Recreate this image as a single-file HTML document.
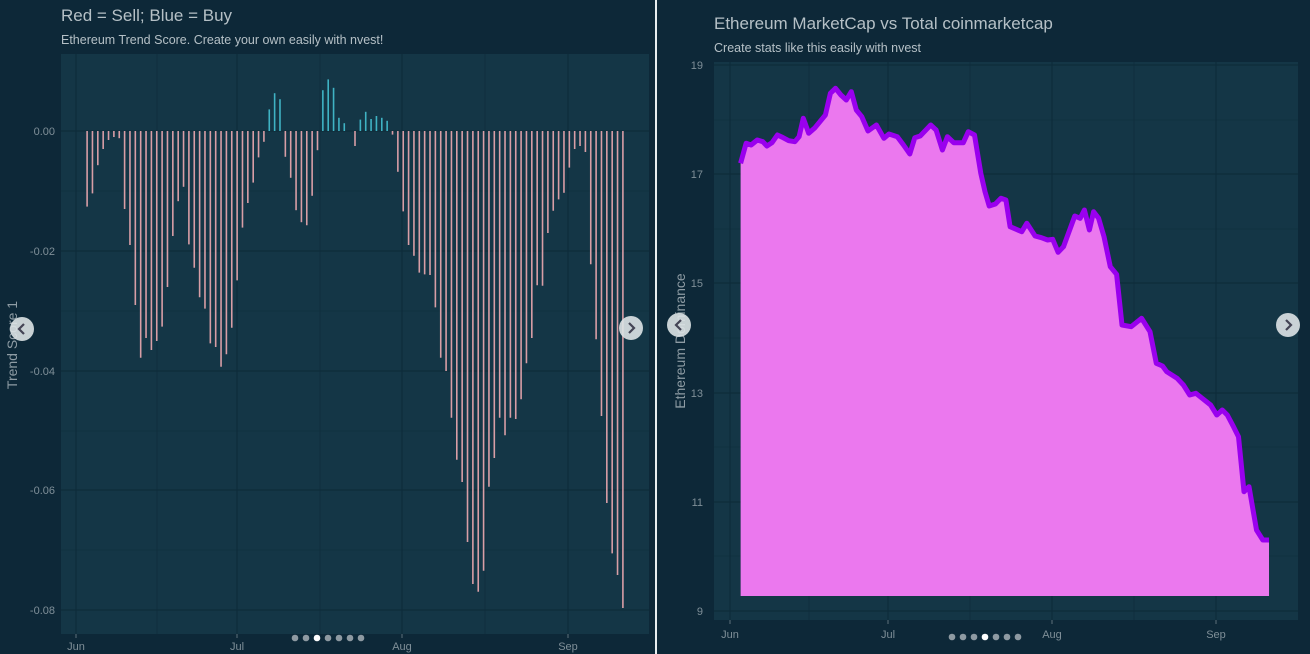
<!DOCTYPE html>
<html><head><meta charset="utf-8"><style>
body{margin:0;background:#0d2838;width:1310px;height:654px;overflow:hidden;font-family:"Liberation Sans",sans-serif}
svg{position:absolute;left:0;top:0}
</style></head><body>
<svg id="s" width="1310" height="654" xmlns="http://www.w3.org/2000/svg">
<rect x="0" y="0" width="1310" height="654" fill="#0d2838"/>
<rect x="655" y="0" width="2" height="654" fill="#e8eef0"/>
<!-- left panel -->
<rect x="61" y="54" width="588" height="580" fill="#143646"/>
<rect x="714" y="62" width="584" height="558" fill="#143646"/>
<g id="grid" stroke="#0e2c3b" fill="none"></g>
<g id="bars"></g>
<g id="area"></g>
<g font-size="17" fill="#b5c0c6">
<text x="61" y="21">Red = Sell; Blue = Buy</text>
<text x="714" y="29">Ethereum MarketCap vs Total coinmarketcap</text>
</g>
<g font-size="12.5" fill="#b5c0c6">
<text x="61" y="44">Ethereum Trend Score. Create your own easily with nvest!</text>
<text x="714" y="52">Create stats like this easily with nvest</text>
</g>
<g font-size="11" fill="#7f8f98" text-anchor="end">
<text x="55" y="135">0.00</text><text x="55" y="255">-0.02</text><text x="55" y="375">-0.04</text><text x="55" y="494">-0.06</text><text x="55" y="614">-0.08</text>
<text x="703" y="69">19</text><text x="703" y="178">17</text><text x="703" y="287">15</text><text x="703" y="397">13</text><text x="703" y="506">11</text><text x="703" y="615">9</text>
</g>
<g font-size="11" fill="#7f8f98" text-anchor="middle">
<text x="76" y="650">Jun</text><text x="237" y="650">Jul</text><text x="402" y="650">Aug</text><text x="568" y="650">Sep</text>
<text x="730" y="638">Jun</text><text x="888" y="638">Jul</text><text x="1052" y="638">Aug</text><text x="1216" y="638">Sep</text>
</g>
<text transform="translate(17,345) rotate(-90)" font-size="14" fill="#8e9ca4" text-anchor="middle">Trend Score 1</text>
<text transform="translate(685,341) rotate(-90)" font-size="14" fill="#8e9ca4" text-anchor="middle">Ethereum Dominance</text>
<g id="ui"></g>
</svg>
<script>
var NS="http://www.w3.org/2000/svg";
function el(p,t,a){var e=document.createElementNS(NS,t);for(var k in a)e.setAttribute(k,a[k]);document.getElementById(p).appendChild(e);return e;}
// grid left
[131,251,371,490,610].forEach(function(y){el("grid","line",{x1:61,x2:649,y1:y,y2:y,"stroke-width":1.2});});
[191,311,431,550].forEach(function(y){el("grid","line",{x1:61,x2:649,y1:y,y2:y,"stroke-width":0.6});});
[76,237,402,568].forEach(function(x){el("grid","line",{x1:x,x2:x,y1:54,y2:634,"stroke-width":1.2});});
[157,320,485].forEach(function(x){el("grid","line",{x1:x,x2:x,y1:54,y2:634,"stroke-width":0.6});});
// grid right
[65,174,283,393,502,611].forEach(function(y){el("grid","line",{x1:714,x2:1298,y1:y,y2:y,"stroke-width":1.2});});
[120,229,338,447,556].forEach(function(y){el("grid","line",{x1:714,x2:1298,y1:y,y2:y,"stroke-width":0.6});});
[730,888,1052,1216].forEach(function(x){el("grid","line",{x1:x,x2:x,y1:62,y2:620,"stroke-width":1.2});});
[809,970,1134].forEach(function(x){el("grid","line",{x1:x,x2:x,y1:62,y2:620,"stroke-width":0.6});});
// ticks
[76,237,402,568].forEach(function(x){el("grid","line",{x1:x,x2:x,y1:634,y2:638,stroke:"#5d707a"});});
[730,888,1052,1216].forEach(function(x){el("grid","line",{x1:x,x2:x,y1:620,y2:624,stroke:"#5d707a"});});
var v=[-0.0126,-0.0104,-0.0057,-0.003,-0.0015,-0.001,-0.0012,-0.013,-0.019,-0.029,-0.0378,-0.0345,-0.0365,-0.035,-0.0326,-0.026,-0.0175,-0.0117,-0.0093,-0.0189,-0.0228,-0.0277,-0.0296,-0.0354,-0.036,-0.0393,-0.0372,-0.0328,-0.0249,-0.0161,-0.012,-0.0086,-0.0044,-0.0018,0.0036,0.0063,0.0053,-0.0043,-0.0078,-0.0132,-0.0152,-0.0157,-0.0108,-0.0032,0.0068,0.0086,0.0072,0.0022,0.0013,0,-0.0025,0.0019,0.0032,0.002,0.0025,0.0022,0.0017,-0.0006,-0.0068,-0.0134,-0.019,-0.0208,-0.0236,-0.0239,-0.024,-0.0294,-0.0378,-0.04,-0.0478,-0.0548,-0.0585,-0.0685,-0.0755,-0.0768,-0.0733,-0.0593,-0.0545,-0.0478,-0.0507,-0.0478,-0.048,-0.0447,-0.0387,-0.0345,-0.0257,-0.0258,-0.017,-0.0133,-0.0114,-0.0103,-0.0061,-0.003,-0.0025,-0.0035,-0.0222,-0.0347,-0.0475,-0.062,-0.0704,-0.074,-0.0795];
v.forEach(function(d,i){var x=87.1+i*5.358;var y=131-d*6000;
 el("bars","line",{x1:x,x2:x,y1:131,y2:y,stroke:d>0?"#3fb3c4":"#d89ea6","stroke-width":1.6});});
var z3=[[205,490],[218,430],[230,435],[245,420],[258,425],[268,438],[280,428],[293,405],[305,412],[320,422],[335,425],[345,410],[355,355],[368,400],[383,383],[408,345],[420,280],[432,265],[445,285],[458,300],[470,275],[482,330],[495,350],[510,393],[530,375],[548,415],[560,402],[580,410],[595,435],[610,462],[622,413],[635,408],[660,375],[673,390],[688,450],[700,410],[715,428],[738,428],[750,395],[765,405],[780,520],[790,575],[800,618],[815,612],[828,595],[840,600],[850,680],[878,695],[890,670],[910,708],[925,713],[940,720],[952,718],[965,757],[978,740],[1005,648],[1018,655],[1028,630],[1040,690],[1050,635],[1062,655],[1075,710],[1090,800],[1105,823],[1118,975],[1140,980],[1165,955]];
var z4=[[1185,5],[1200,100],[1215,108],[1225,125],[1250,145],[1265,165],[1280,195],[1295,190],[1310,205],[1330,225],[1345,255],[1358,240],[1370,255],[1385,290],[1397,320],[1410,485],[1422,470],[1440,600],[1455,630],[1470,630]];
var pts=z3.map(function(p){return [655+p[0]/2.394,p[1]/3];}).concat(z4.map(function(p){return [655+p[0]/2.394,330+p[1]/3];}));
var line=pts.map(function(p){return p[0].toFixed(1)+","+p[1].toFixed(1);}).join(" ");
var x0=pts[0][0],x1=pts[pts.length-1][0];
el("area","polygon",{points:x0+",596 "+line+" "+x1+",596",fill:"#eb78ee"});
el("area","polyline",{points:line,fill:"none",stroke:"#9a00ee","stroke-width":5,"stroke-linejoin":"round"});
// carousel UI
[[22,329],[631,328],[679,325],[1288,325]].forEach(function(c,i){
 el("ui","circle",{cx:c[0],cy:c[1],r:12,fill:"#dde3e6",opacity:0.9});
 var d=(i%2==0)?-1:1;
 el("ui","polyline",{points:(c[0]-2*d)+","+(c[1]-5)+" "+(c[0]+3*d)+","+c[1]+" "+(c[0]-2*d)+","+(c[1]+5),fill:"none",stroke:"#445",  "stroke-width":2.2});
});
for(var i=0;i<7;i++){
 el("ui","circle",{cx:295+i*11,cy:638,r:3.3,fill:i==2?"#ffffff":"#8e9aa2"});
 el("ui","circle",{cx:952+i*11,cy:637,r:3.3,fill:i==3?"#ffffff":"#8e9aa2"});
}
</script>
</body></html>
